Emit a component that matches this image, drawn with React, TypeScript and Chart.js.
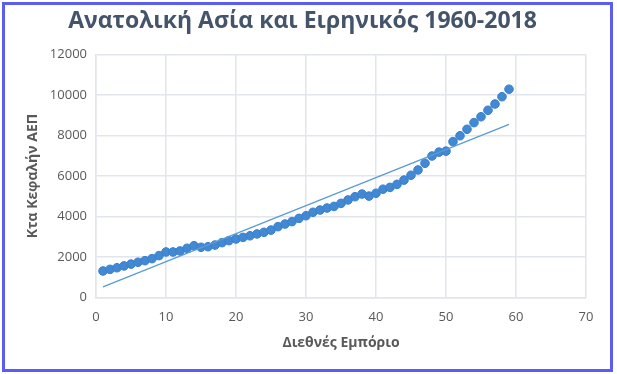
import React, { useEffect, useRef } from "react";
import { Chart, registerables } from "chart.js";

Chart.register(...registerables);

const chartTitle = "Ανατολική Ασία και Ειρηνικός 1960-2018";
const xAxisTitle = "Διεθνές Εμπόριο";
const yAxisTitle = "Κτα Κεφαλήν ΑΕΠ";

const xValues = [
  1, 2, 3, 4, 5, 6, 7, 8, 9, 10,
  11, 12, 13, 14, 15, 16, 17, 18, 19, 20,
  21, 22, 23, 24, 25, 26, 27, 28, 29, 30,
  31, 32, 33, 34, 35, 36, 37, 38, 39, 40,
  41, 42, 43, 44, 45, 46, 47, 48, 49, 50,
  51, 52, 53, 54, 55, 56, 57, 58, 59,
];

const gdpValues = [
  1310, 1390, 1470, 1560, 1650, 1740, 1820, 1920, 2070, 2250,
  2250, 2300, 2430, 2560, 2480, 2510, 2590, 2710, 2810, 2890,
  2970, 3050, 3140, 3220, 3330, 3500, 3630, 3750, 3910, 4040,
  4210, 4320, 4420, 4500, 4650, 4820, 4980, 5110, 5010, 5150,
  5350, 5440, 5590, 5800, 6040, 6300, 6630, 6990, 7180, 7230,
  7700, 7990, 8310, 8640, 8930, 9250, 9560, 9920, 10290,
];

function linearFit(xs: number[], ys: number[]) {
  const n = xs.length;
  let sx = 0, sy = 0, sxx = 0, sxy = 0;
  for (let i = 0; i < n; i++) {
    sx += xs[i]; sy += ys[i]; sxx += xs[i] * xs[i]; sxy += xs[i] * ys[i];
  }
  const slope = (n * sxy - sx * sy) / (n * sxx - sx * sx);
  const intercept = (sy - slope * sx) / n;
  return { slope, intercept };
}

export default function App() {
  const canvasRef = useRef<HTMLCanvasElement | null>(null);

  useEffect(() => {
    if (!canvasRef.current) return;
    const points = xValues.map((x, i) => ({ x, y: gdpValues[i] }));
    const { slope, intercept } = linearFit(xValues, gdpValues);
    const xMin = xValues[0];
    const xMax = xValues[xValues.length - 1];
    const trend = [
      { x: xMin, y: intercept + slope * xMin },
      { x: xMax, y: intercept + slope * xMax },
    ];
    const tickColor = "#595959";
    const gridColor = "#e3e5ec";
    const chart = new Chart(canvasRef.current, {
      type: "scatter",
      data: {
        datasets: [
          {
            type: "line",
            data: trend,
            borderColor: "#5b9bd5",
            borderWidth: 1.3,
            pointRadius: 0,
            showLine: true,
            fill: false,
          } as any,
          {
            data: points,
            backgroundColor: "#4189d5",
            borderColor: "#3b80ca",
            borderWidth: 1,
            pointRadius: 4.3,
          },
        ],
      },
      options: {
        animation: false,
        responsive: false,
        layout: { padding: { left: 19, right: 31, top: 0, bottom: 10 } },
        plugins: {
          legend: { display: false },
          tooltip: { enabled: false },
          title: {
            display: true,
            text: chartTitle,
            color: "#44546a",
            font: { family: "'Open Sans', sans-serif", size: 23, weight: "bold" },
            padding: { top: 8, bottom: 19 },
          },
        },
        scales: {
          x: {
            type: "linear",
            min: 0,
            max: 70,
            ticks: {
              stepSize: 10,
              color: tickColor,
              font: { family: "'Open Sans', sans-serif", size: 13 },
              padding: 12,
              callback: (v: any) => String(v),
            },
            grid: { color: gridColor, lineWidth: 1.5, drawTicks: false },
            border: { color: gridColor, width: 1.5 },
            title: {
              display: true,
              text: xAxisTitle,
              color: tickColor,
              font: { family: "'Open Sans', sans-serif", size: 14, weight: "bold" },
              padding: { top: 0, bottom: 13 },
            },
            afterFit: (s: any) => { s.height = 66.5; },
          },
          y: {
            type: "linear",
            min: 0,
            max: 12000,
            ticks: {
              stepSize: 2000,
              color: tickColor,
              font: { family: "'Open Sans', sans-serif", size: 13 },
              padding: 9,
              callback: (v: any) => String(v),
            },
            grid: { color: gridColor, lineWidth: 1.5, drawTicks: false },
            border: { color: gridColor, width: 1.5 },
            title: {
              display: true,
              text: yAxisTitle,
              color: tickColor,
              font: { family: "'Open Sans', sans-serif", size: 14, weight: "bold" },
              padding: { top: 6, bottom: 0 },
            },
            afterFit: (s: any) => { s.width = 77; },
          },
        },
      },
    });
    return () => chart.destroy();
  }, []);

  return (
    <div style={{ position: "absolute", left: 0, top: 0, width: 617, height: 374, background: "#ffffff" }}>
      <div
        style={{
          position: "absolute",
          left: 2,
          top: 2,
          width: 605,
          height: 364,
          border: "3px solid #5a5cf2",
        }}
      />
      <canvas
        ref={canvasRef}
        width={617}
        height={374}
        style={{ position: "absolute", left: 0, top: 0, width: 617, height: 374 }}
      />
    </div>
  );
}
